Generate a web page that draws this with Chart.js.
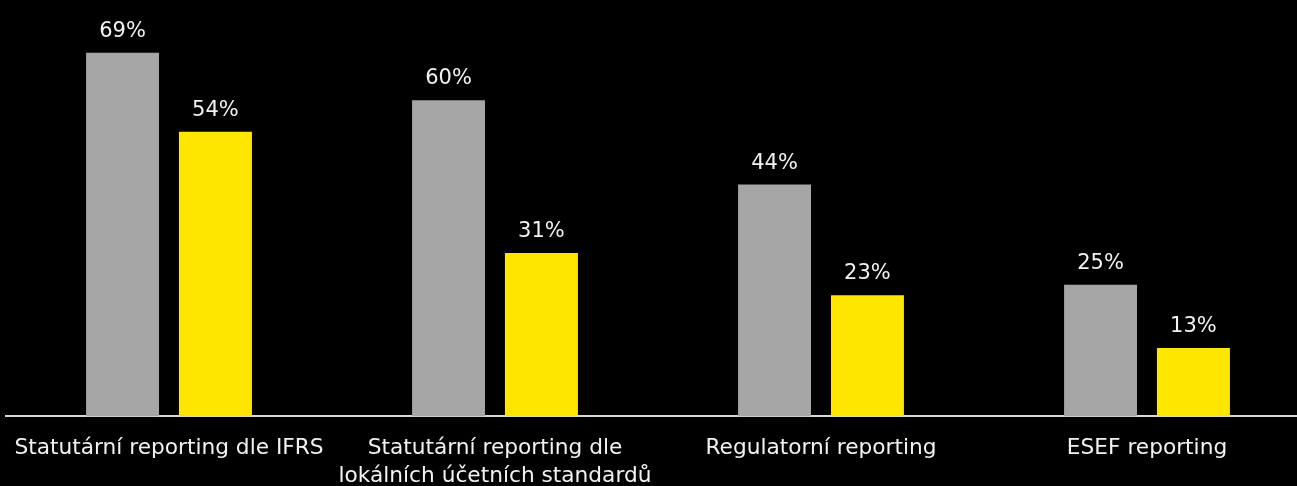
<!DOCTYPE html>
<html>
<head>
<meta charset="utf-8">
<script src="https://cdn.jsdelivr.net/npm/chart.js@4/dist/chart.umd.min.js"></script>
<style>
  html, body { margin: 0; padding: 0; background: #000; overflow: hidden; }
  #wrap { width: 1297px; height: 486px; overflow: hidden; }
</style>
</head>
<body>
<div id="wrap"><canvas id="reportingChart" width="1310" height="508"></canvas></div>
<script>
// kategorie a hodnoty (v %)
const kategorie = [
  'Statutární reporting dle IFRS',
  ['Statutární reporting dle', 'lokálních účetních standardů'],
  'Regulatorní reporting',
  'ESEF reporting'
];
const seda = [69, 60, 44, 25];
const zluta = [54, 31, 23, 13];

// popisky hodnot nad sloupci
const popisky = {
  id: 'popisky',
  afterDatasetsDraw(chart) {
    const ctx = chart.ctx;
    ctx.save();
    ctx.fillStyle = '#f2f2f2';
    ctx.font = '21px "DejaVu Sans"';
    ctx.textAlign = 'center';
    ctx.textBaseline = 'alphabetic';
    chart.data.datasets.forEach((ds, i) => {
      chart.getDatasetMeta(i).data.forEach((bar, j) => {
        ctx.fillText(ds.data[j] + '%', bar.x, bar.y - 16);
      });
    });
    ctx.restore();
  }
};

let ctx = document.getElementById('reportingChart').getContext('2d');
new Chart(ctx, {
  type: 'bar',
  data: {
    labels: kategorie,
    datasets: [
      { label: 'A', data: seda, backgroundColor: '#a6a6a6', categoryPercentage: 0.57, barPercentage: 0.785 },
      { label: 'B', data: zluta, backgroundColor: '#ffe600', categoryPercentage: 0.57, barPercentage: 0.785 }
    ]
  },
  options: {
    responsive: false,
    animation: false,
    layout: { padding: { left: 6, right: 0, top: 0, bottom: 0 } },
    plugins: {
      legend: { display: false },
      tooltip: { enabled: false }
    },
    scales: {
      y: { display: false, min: 0, max: 79 },
      x: {
        afterFit: function(scale) {
          // popisky se vejdou do kategorie, bez extra odsazení
          scale.paddingLeft = 0;
          scale.paddingRight = 0;
        },
        grid: { display: false, drawTicks: false },
        border: { display: true, color: '#d9d9d9', width: 2 },
        ticks: {
          color: '#f2f2f2',
          padding: 18,
          maxRotation: 0,
          autoSkip: false,
          font: { family: 'DejaVu Sans', size: 21.7, lineHeight: 1.28 }
        }
      }
    }
  },
  plugins: [popisky]
});
</script>
</body>
</html>
